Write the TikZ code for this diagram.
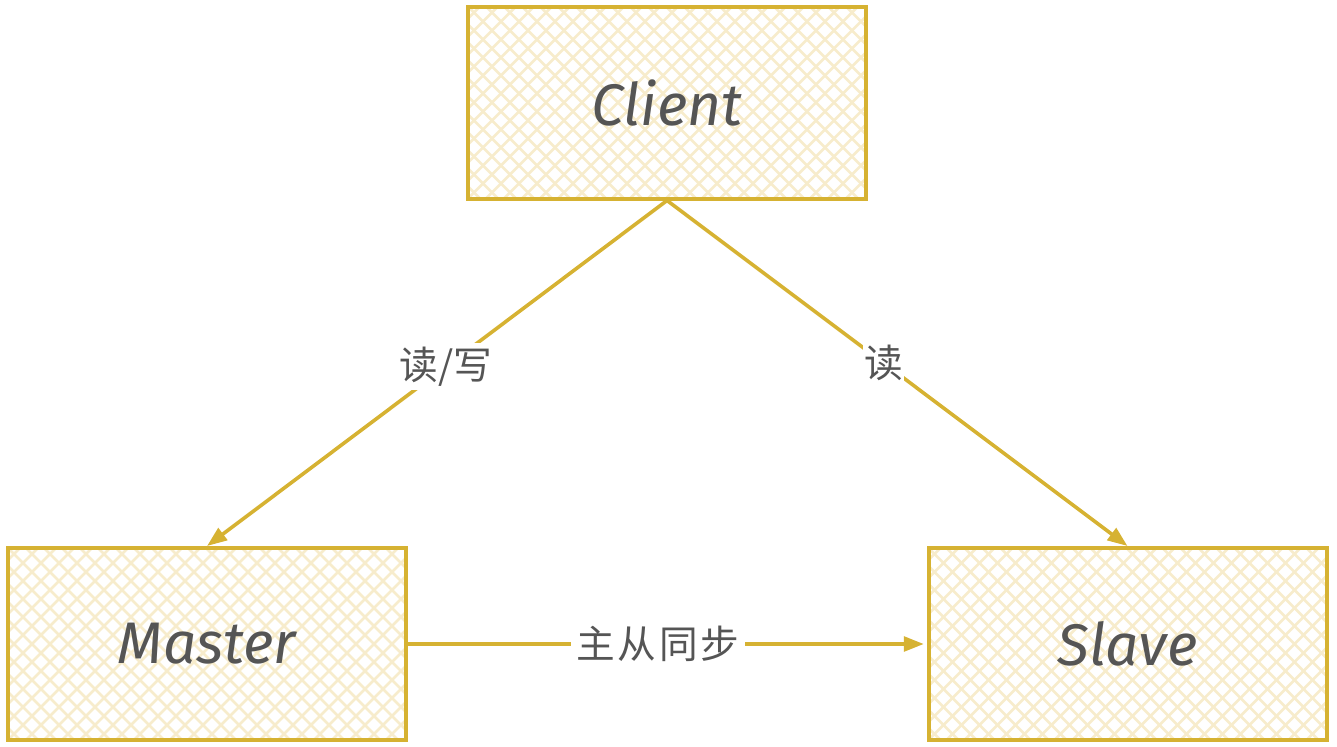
\documentclass[tikz,border=0pt]{standalone}
\usepackage{fontspec}
\setmainfont{Fira Sans}
\newfontfamily\cjk{Noto Sans CJK SC}
\usetikzlibrary{arrows.meta}
\definecolor{gold}{HTML}{D6B232}
\definecolor{hatch}{HTML}{F7ECCC}
\definecolor{ink}{HTML}{555555}
\tikzset{
  hatchline/.style={draw=hatch, line width=2pt},
  box/.style={draw=gold, line width=3pt, minimum width=298.5pt, minimum height=144pt,
    inner sep=0pt, text=ink, font=\fontsize{44}{46}\selectfont\itshape,
    path picture={
      \foreach \k in {-12,...,24} {
        \draw[hatchline] ([xshift=\k*13.5pt]path picture bounding box.north west) -- ++(150pt,-150pt);
        \draw[hatchline] ([xshift=\k*13.5pt]path picture bounding box.south west) -- ++(150pt,150pt);
      }
    }},
  conn/.style={draw=gold, line width=2.7pt, -{Triangle[length=15pt,width=11pt]}},
  lbl/.style={fill=white, text=ink, inner sep=3pt, font=\cjk\fontsize{29}{31}\selectfont}
}
\begin{document}
\begin{tikzpicture}[x=0.75pt,y=-0.75pt]
\useasboundingbox (0,0) rectangle (1337,746);
\node[box] (client) at (667,102.5) {Client};
\node[box] (master) at (207,644) {Master};
\node[box] (slave) at (1127.5,644) {Slave};
\draw[conn] (client.south) -- node[lbl, pos=0.48] (l1) {读/写} (master.north);
\draw[conn] (client.south) -- node[lbl, pos=0.47, inner sep=1pt] (l2) {读} (slave.north);
\draw[conn] (master.east) -- node[lbl, inner sep=4pt, xshift=-6pt] (l3) {主\hspace{2pt}从\hspace{2pt}同\hspace{2pt}步} ([xshift=-2pt]slave.west);
\end{tikzpicture}
\end{document}
